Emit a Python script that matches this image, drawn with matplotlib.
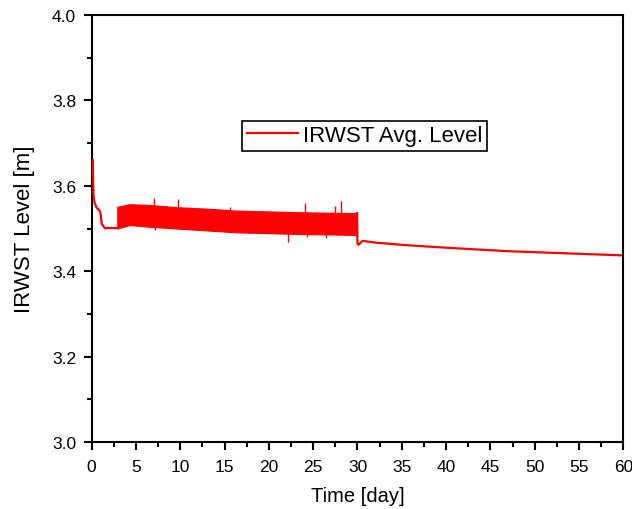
import matplotlib
matplotlib.use("Agg")
import matplotlib.pyplot as plt
from matplotlib.ticker import MultipleLocator, FormatStrFormatter
import numpy as np

plt.rcParams['font.family'] = ['Liberation Sans', 'DejaVu Sans']

# Initial drop (day, level)
pre_t = [0.15, 0.17, 0.22, 0.35, 0.6, 0.9, 1.0, 1.15, 1.5, 2.91]
pre_y = [3.660, 3.630, 3.577, 3.560, 3.548, 3.542, 3.538, 3.511, 3.501, 3.501]

# Oscillating band envelope (day, upper, lower)
band_t = [2.91, 4.3, 6.6, 9.6, 13.4, 16.3, 20.0, 23.7, 27.0, 29.95]
band_hi = [3.551, 3.557, 3.555, 3.550, 3.546, 3.542, 3.540, 3.538, 3.537, 3.536]
band_lo = [3.500, 3.508, 3.504, 3.500, 3.495, 3.491, 3.489, 3.487, 3.486, 3.485]

# Spikes out of the band (day, tip level)
spike_up_t = [7.08, 9.79, 15.6, 24.1, 27.5, 28.1]
spike_up_y = [3.571, 3.569, 3.550, 3.559, 3.553, 3.564]
spike_dn_t = [7.2, 22.2, 24.3, 26.4]
spike_dn_y = [3.497, 3.468, 3.479, 3.478]

# After day 30
post_t = [29.95, 30.0, 30.1, 30.6, 32.0, 35.5, 40.0, 46.8, 52.0, 60.0]
post_y = [3.536, 3.465, 3.462, 3.471, 3.467, 3.461, 3.455, 3.447, 3.443, 3.437]

fig = plt.figure(figsize=(6.32, 5.10), dpi=100)
ax = fig.add_axes([0.1448, 0.1314, 0.8417, 0.8372])

red = '#ff0000'
lw = 1.6
line, = ax.plot(pre_t, pre_y, color=red, lw=lw, label='IRWST Avg. Level', zorder=3)
ax.fill_between(band_t, band_lo, band_hi, color=red, lw=0.8, edgecolor=red)
ax.plot(post_t, post_y, color=red, lw=lw)
ax.vlines(spike_up_t, np.interp(spike_up_t, band_t, band_hi) - 0.005, spike_up_y, color=red, lw=1.0)
ax.vlines(spike_dn_t, spike_dn_y, np.interp(spike_dn_t, band_t, band_lo) + 0.005, color=red, lw=1.0)

ax.set_xlim(0, 60)
ax.set_ylim(3.0, 4.0)
ax.xaxis.set_major_locator(MultipleLocator(5))
ax.xaxis.set_minor_locator(MultipleLocator(2.5))
ax.yaxis.set_major_locator(MultipleLocator(0.2))
ax.yaxis.set_minor_locator(MultipleLocator(0.1))
ax.yaxis.set_major_formatter(FormatStrFormatter('%.1f'))

for s in ax.spines.values():
    s.set_linewidth(1.5)
ax.tick_params(which='major', direction='out', length=6, width=1.5, labelsize=12.5)
ax.tick_params(axis='x', which='major', pad=6)
ax.tick_params(axis='y', which='major', pad=5)
ax.tick_params(which='minor', direction='out', length=3.5, width=1.5)
ax.tick_params(top=False, right=False, which='both')

ax.set_xlabel('Time [day]', fontsize=14.5, labelpad=9)
ax.set_ylabel('IRWST Level [m]', fontsize=16, labelpad=12)

leg = ax.legend(handles=[line], loc='upper left', bbox_to_anchor=(0.2835, 0.7525),
                borderaxespad=0, fancybox=False, framealpha=1, edgecolor='black',
                fontsize=16, handlelength=2.3, handletextpad=0.25, borderpad=0.2)
leg.get_frame().set_linewidth(1.2)

fig.savefig('out.png', dpi=100, facecolor='white')
